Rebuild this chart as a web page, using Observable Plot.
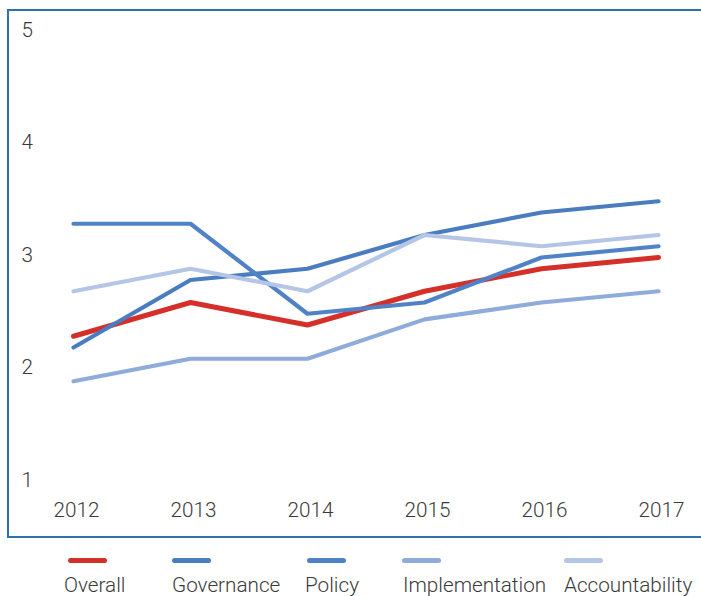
<!DOCTYPE html>
<html>
<head>
<meta charset="utf-8">
<script src="https://cdn.jsdelivr.net/npm/d3@7"></script>
<script src="https://cdn.jsdelivr.net/npm/@observablehq/plot@0.6"></script>
<style>
  html, body { margin: 0; padding: 0; background: #fff; }
  #wrap { position: relative; width: 701px; height: 596px; overflow: hidden; font-family: Roboto, "Noto Sans", sans-serif; }
  #frame { position: absolute; left: 7px; top: 9px; width: 720px; height: 525px; border-left: 2px solid #2f72ab; border-top: 2px solid #2f72ab; border-bottom: 2px solid #2f72ab; }
  #chart { position: absolute; left: 0; top: 0; }
  .sw { position: absolute; height: 5px; width: 39px; border-radius: 2.5px; top: 558px; }
  .lb { position: absolute; font-size: 20.7px; line-height: 18px; font-weight: 300; color: #3a3a3a; top: 576px; white-space: nowrap; }
</style>
</head>
<body>
<div id="wrap">
  <div id="frame"></div>
  <div id="chart"></div>
</div>
<script>
const years = [2012, 2013, 2014, 2015, 2016, 2017];
const seriesNames = ["Overall", "Governance", "Policy", "Implementation", "Accountability"];
const overall        = [2.3, 2.6, 2.4, 2.7, 2.9, 3.0];
const governance     = [2.2, 2.8, 2.9, 3.2, 3.4, 3.5];
const policy         = [3.3, 3.3, 2.5, 2.6, 3.0, 3.1];
const implementation = [1.9, 2.1, 2.1, 2.45, 2.6, 2.7];
const accountability = [2.7, 2.9, 2.7, 3.2, 3.1, 3.2];
const yTicks = [1, 2, 3, 4, 5];

const colors = ["#d52f2a", "#4a7cc0", "#5082c6", "#8fabda", "#b4c5e6"];
const widths = [5, 4.2, 4.2, 4.2, 4.2];
const legendLabelX = [64, 172, 305, 403, 564];
const legendSwatchX = [68, 172, 307, 402, 564];

const valuesBySeries = [overall, governance, policy, implementation, accountability];
const rows = [];
seriesNames.forEach((s, i) => {
  years.forEach((y, j) => rows.push({series: s, year: String(y), value: valuesBySeries[i][j]}));
});

const marks = seriesNames.map((s, i) =>
  Plot.line(rows.filter(d => d.series === s), {
    x: "year", y: "value",
    stroke: colors[i], strokeWidth: widths[i],
    strokeLinecap: "round", strokeLinejoin: "round"
  })
);

const chart = Plot.plot({
  width: 701,
  height: 545,
  marginLeft: 72,
  marginRight: 43,
  marginTop: 32,
  marginBottom: 63,
  style: { fontFamily: "Roboto, 'Noto Sans', sans-serif", fontSize: "20.7px", fontWeight: 300, color: "#3a3a3a", background: "transparent", overflow: "visible" },
  x: { type: "point", domain: years.map(String), padding: 0 },
  y: { domain: [1, 5] },
  marks: [
    Plot.axisY({ ticks: yTicks, tickSize: 0, tickPadding: 51, textAnchor: "start", dy: -2.5, tickFormat: d => String(d), label: null }),
    Plot.axisX({ tickSize: 0, tickPadding: 20, dx: 3, label: null }),
    ...marks
  ]
});
document.getElementById("chart").appendChild(chart);

const wrap = document.getElementById("wrap");
seriesNames.forEach((s, i) => {
  const sw = document.createElement("div");
  sw.className = "sw";
  sw.style.left = legendSwatchX[i] + "px";
  sw.style.background = colors[i];
  wrap.appendChild(sw);
  const lb = document.createElement("div");
  lb.className = "lb";
  lb.style.left = legendLabelX[i] + "px";
  lb.textContent = s;
  wrap.appendChild(lb);
});
</script>
</body>
</html>
